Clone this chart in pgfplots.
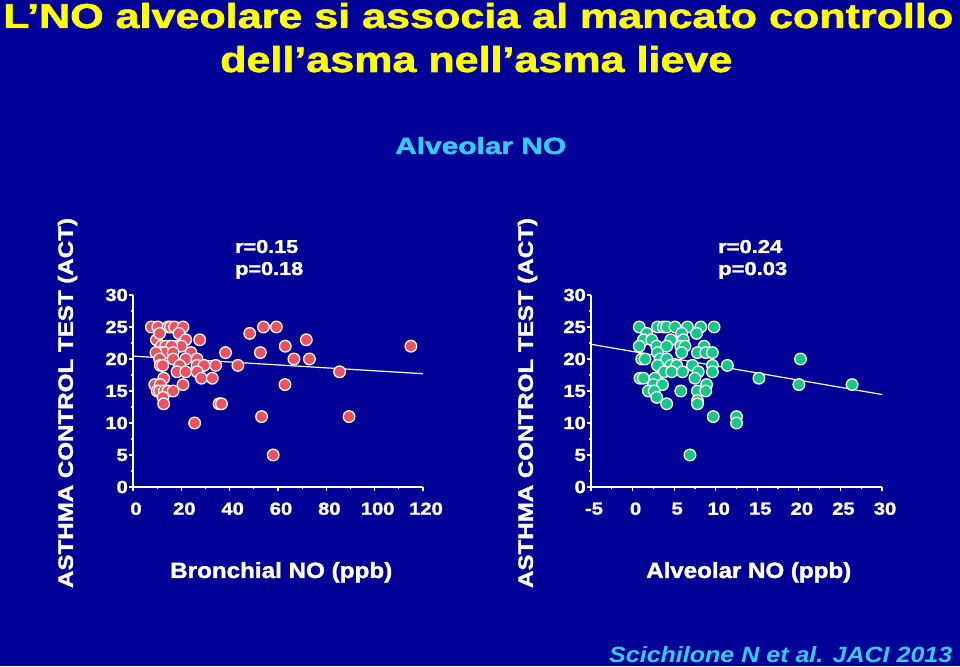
\documentclass[border=0pt]{standalone}
\usepackage{pgfplots}
\pgfplotsset{compat=1.18}
\usepackage{fontspec}
\setmainfont{Liberation Sans}
\newfontfamily\heavy{Liberation Sans}[BoldFeatures={FakeBold=1.5}]
\definecolor{bg}{RGB}{0,0,150}
\definecolor{ttl}{RGB}{255,255,0}
\definecolor{lblue}{RGB}{51,204,255}
\definecolor{redpt}{RGB}{238,80,98}
\definecolor{grnpt}{RGB}{20,200,140}
\newcommand{\fit}[3]{\resizebox{#1pt}{#2pt}{#3}}
\pgfplotsset{
  slideaxis/.style={
    scale only axis,
    width=290pt, height=192pt,
    anchor=south west,
    axis lines=left,
    axis line style={-, white, line width=1.6pt},
    ymin=0, ymax=30, ytick={0,5,...,30},
    minor tick num=1,
    tick align=outside,
    major tick length=4pt, minor tick length=2.5pt,
    every tick/.style={white, line width=1.2pt},
    tick label style={white, font=\heavy\bfseries\fontsize{17.5}{17.5}\selectfont},
    xticklabel={\scalebox{1.15}[1]{\pgfmathprintnumber{\tick}}},
    yticklabel={\scalebox{1.15}[1]{\pgfmathprintnumber{\tick}}},
    yticklabel style={inner sep=1pt},
    xticklabel style={yshift=-8pt, xshift=3pt},
    /pgf/number format/assume math mode=true,
    clip=false,
  },
}
\begin{document}
\begin{tikzpicture}[x=1pt,y=1pt]
\fill[bg] (0,0) rectangle (960,666);
% titles
\node[anchor=base west, inner sep=0pt, text=ttl] at (3,638) {\fit{950}{25}{\heavy\bfseries L’NO alveolare si associa al mancato controllo}};
\node[anchor=base west, inner sep=0pt, text=ttl] at (220,594) {\fit{512}{26}{\heavy\bfseries dell’asma nell’asma lieve}};
\node[anchor=base west, inner sep=0pt, text=lblue] at (395,512) {\fit{171}{17}{\heavy\bfseries Alveolar NO}};
% y labels
\node[rotate=90, inner sep=0pt, text=white] at (67.5,263) {\fit{370}{15}{\heavy\bfseries ASTHMA CONTROL TEST (ACT)}};
\node[rotate=90, inner sep=0pt, text=white] at (527.5,263) {\fit{370}{15}{\heavy\bfseries ASTHMA CONTROL TEST (ACT)}};
% x labels
\node[anchor=base west, inner sep=0pt, text=white] at (170,88) {\fit{222}{16}{\heavy\bfseries Bronchial NO (ppb)}};
\node[anchor=base west, inner sep=0pt, text=white] at (646,88) {\fit{205}{16}{\heavy\bfseries Alveolar NO (ppb)}};
% r and p
\node[anchor=base west, inner sep=0pt, text=white] at (235,413) {\fit{63}{13}{\heavy\bfseries r=0.15}};
\node[anchor=base west, inner sep=0pt, text=white] at (235,391) {\fit{68}{13}{\heavy\bfseries p=0.18}};
\node[anchor=base west, inner sep=0pt, text=white] at (718,413) {\fit{64}{13}{\heavy\bfseries r=0.24}};
\node[anchor=base west, inner sep=0pt, text=white] at (718,391) {\fit{69}{13}{\heavy\bfseries p=0.03}};
% citation
\node[anchor=base west, inner sep=0pt, text=lblue] at (609,4) {\fit{343}{16}{\heavy\bfseries\itshape Scichilone N et al. JACI 2013}};

\begin{axis}[slideaxis, at={(133pt,179pt)},
  xmin=0, xmax=120, xtick={0,20,...,120}]
\addplot[white, line width=1.2pt] coordinates {(0,20.45) (120,17.7)};
\addplot[only marks, mark=*, mark size=5.8pt, mark options={fill=redpt, draw=white, line width=1.3pt}] coordinates {
(7.6,25) (10.3,25) (14.5,25) (15.5,25) (17.2,25) (20.7,25)
(9.7,23) (11,24) (19,24) (21.8,23) (11.7,22) (15,22) (18.2,22) (20,22) (13.5,22) (16,22)
(24,21) (11.3,21) (13,21) (16.6,21) (9.5,21)
(16.6,20) (21.8,20) (11,20) (26.5,20)
(11.3,19) (12.3,19) (19.3,19) (26.5,19) (29.4,19) (34.2,19)
(18.2,18) (21.8,18) (26.5,18)
(28.3,17) (32.8,17) (12.7,17)
(9,16) (11.3,16) (20.7,16)
(10,15) (11,15) (13,15) (14.5,15) (16.6,15)
(12.4,14) (12.7,13) (35.6,13) (36.6,13)
(27.6,23) (38.3,21) (43.4,19) (48.3,24) (54,25) (59.3,25) (52.7,21)
(63,22) (66.6,20) (71.7,23) (73,20) (62.9,16) (85.5,18)
(25.5,10) (53.2,11) (89.4,11) (58,5) (115,22)
};
\end{axis}

\begin{axis}[slideaxis, at={(591pt,179pt)}, width=291pt,
  xmin=-5, xmax=30, xtick={-5,0,...,30}]
\addplot[white, line width=1.2pt] coordinates {(-5,22.3) (30,14.45)};
\addplot[only marks, mark=*, mark size=5.8pt, mark options={fill=grnpt, draw=white, line width=1.3pt}] coordinates {
(0.8,25) (3,25) (3.7,25) (4.1,25) (5.1,25) (6.6,25) (8.2,25) (9.8,25)
(1.7,24) (5.9,24) (7.7,24)
(1.3,23) (2.3,23) (4.6,23) (6.1,23)
(0.8,22) (2.9,22) (4.1,22) (5.8,22) (6.3,22) (8.6,22)
(3,21) (5.9,21) (7.8,21) (8.8,21) (9.6,21)
(1.1,20) (1.5,20) (3.3,20) (4.1,20) (20.2,20)
(3,19) (4.6,19) (5.3,19) (7.2,19) (9.6,19) (11.4,19)
(3.8,18) (4.7,18) (6,18) (7.9,18) (9.6,18)
(0.9,17) (1.3,17) (2.7,17) (7.5,17) (15.2,17)
(2.5,16) (3.6,16) (8.9,16) (20,16) (26.4,16)
(1.9,15) (2.6,15) (5.8,15) (7.8,15) (8.8,15)
(2.9,14) (7.8,13.5) (7.8,13) (4.1,13)
(9.7,11) (12.5,11) (12.5,10) (6.9,5)
};
\end{axis}
\end{tikzpicture}
\end{document}
